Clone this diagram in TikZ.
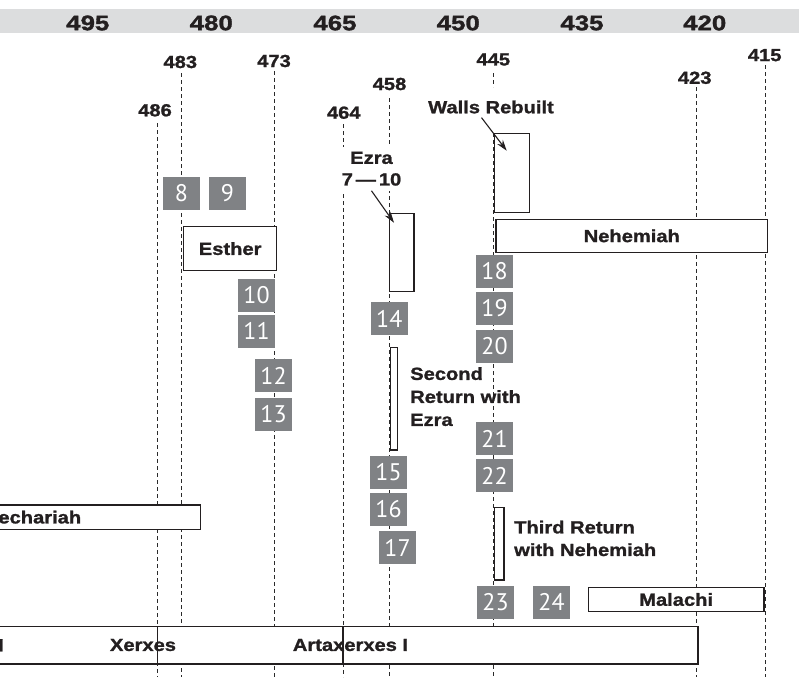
\documentclass[tikz,border=0pt]{standalone}
\usepackage{fontspec}
\usetikzlibrary{arrows.meta}
\newfontfamily\lblfont{Liberation Sans Bold}[FakeStretch=1.15,FakeBold=1.3]
\newfontfamily\hdrfont{Liberation Sans Bold}[FakeStretch=1.23,FakeBold=1.5]
\newfontfamily\numfont{PT Sans}
\definecolor{ink}{HTML}{231F20}
\definecolor{bandgray}{HTML}{DCDDDE}
\definecolor{boxgray}{HTML}{808285}
\definecolor{guidecol}{HTML}{2A2A2A}
\tikzset{
 hdr/.style={font=\hdrfont\fontsize{21}{21}\selectfont, text=ink, inner sep=0},
 yr/.style={font=\lblfont\fontsize{17.5}{17.5}\selectfont, text=ink, inner sep=0},
 guide/.style={draw=guidecol, line width=0.9pt, dash pattern=on 4pt off 3pt},
 span/.style={draw=ink, fill=white, line width=1.3pt, anchor=north west, inner sep=0, font=\lblfont\fontsize{17.5}{17.5}\selectfont, text=ink},
 num/.style={fill=boxgray, text=white, minimum width=37pt, minimum height=33pt, inner sep=0, font=\numfont\fontsize{24}{24}\selectfont},
 lbl/.style={font=\lblfont\fontsize{17.5}{23}\selectfont, text=ink, inner sep=0},
 arr/.style={draw=ink, line width=1.1pt, -{Stealth[length=11pt,width=7pt]}},
 divider/.style={draw=ink, line width=1.3pt},
}
\begin{document}
\begin{tikzpicture}[x=1pt,y=-1pt]
\useasboundingbox (0,0) rectangle (799,677);
\clip (0,0) rectangle (799,677);
% header band
\fill[bandgray] (0,9) rectangle (799,33.5);
\node[hdr] (h495) at (87.8,23) {495};
\node[hdr] (h480) at (211.3,23) {480};
\node[hdr] (h465) at (335,23) {465};
\node[hdr] (h450) at (458.3,23) {450};
\node[hdr] (h435) at (582,23) {435};
\node[hdr] (h420) at (704.7,23) {420};
% year labels
\node[yr] (y486) at (155,110.3) {486};
\node[yr] (y483) at (180.3,62) {483};
\node[yr] (y473) at (274,61) {473};
\node[yr] (y464) at (343.8,112.7) {464};
\node[yr] (y458) at (389.5,84) {458};
\node[yr] (y445) at (493.3,59.5) {445};
\node[yr] (y423) at (694.7,77.8) {423};
\node[yr] (y415) at (764.7,55.2) {415};
% guide lines
\coordinate (t486) at (157.5,123); \coordinate (b486) at (157.5,677);
\coordinate (t483) at (181,73);    \coordinate (b483) at (181,677);
\coordinate (t473) at (274.7,71);  \coordinate (b473) at (274.7,677);
\coordinate (t464) at (343,124);   \coordinate (b464) at (343,677);
\coordinate (t458) at (389.3,98);  \coordinate (b458) at (389.3,677);
\coordinate (t445) at (493.3,73);  \coordinate (m445) at (493.3,87);
\coordinate (n445) at (493.3,133); \coordinate (b445) at (493.3,677);
\coordinate (t423) at (696.7,87);  \coordinate (b423) at (696.7,677);
\coordinate (t415) at (765.7,65);  \coordinate (b415) at (765.7,677);
\draw[guide] (t486) -- (b486);
\draw[guide] (t483) -- (b483);
\draw[guide] (t473) -- (b473);
\draw[guide] (t464) -- (b464);
\draw[guide] (t458) -- (b458);
\draw[guide] (t445) -- (m445);
\draw[guide] (n445) -- (b445);
\draw[guide] (t423) -- (b423);
\draw[guide] (t415) -- (b415);
% spans
\node[span, minimum width=93pt, minimum height=44pt] (esther) at (183,226) {Esther};
\node[span, minimum width=24.6pt, minimum height=78.3pt] (ezrabox) at (388.7,212.7) {};
\node[span, minimum width=35pt, minimum height=78.7pt] (wallsbox) at (494,133) {};
\node[span, minimum width=271.7pt, minimum height=33pt] (nehemiah) at (495.3,218.7) {Nehemiah};
\node[span, minimum width=7pt, minimum height=102.6pt] (second) at (389.7,346.7) {};
\node[span, minimum width=9.6pt, minimum height=72.3pt] (third) at (493.7,507) {};
\node[span, minimum width=334pt, minimum height=24.4pt] (zech) at (-134,504.3) {Zechariah};
\node[span, minimum width=175.6pt, minimum height=23.7pt] (malachi) at (587.7,587) {Malachi};
\node[span, minimum width=717.3pt, minimum height=37.3pt] (kings) at (-20,626) {};
\draw[divider] (157.5,0 |- kings.north) -- (157.5,0 |- kings.south);
\draw[divider] (343,0 |- kings.north) -- (343,0 |- kings.south);
\node[yr, anchor=east] (darius) at (4,645) {Darius I};
\node[yr] (xerxes) at (143,645) {Xerxes};
\node[yr] (artax) at (350.5,645) {Artaxerxes I};
% numbered boxes
\node[num] (n8) at (181.5,193.5) {8};
\node[num] (n9) at (227.5,193.5) {9};
\node[num] (n10) at (256.5,295.5) {10};
\node[num] (n11) at (256.5,331) {11};
\node[num] (n12) at (273.5,375.5) {12};
\node[num] (n13) at (273.5,414) {13};
\node[num] (n14) at (389.3,318.5) {14};
\node[num] (n15) at (388.5,472.5) {15};
\node[num] (n16) at (388.5,509.5) {16};
\node[num] (n17) at (397.5,547.5) {17};
\node[num] (n18) at (494.5,271) {18};
\node[num] (n19) at (494.5,308) {19};
\node[num] (n20) at (494.5,346) {20};
\node[num] (n21) at (494.5,438.5) {21};
\node[num] (n22) at (494.5,475.5) {22};
\node[num] (n23) at (495.5,602) {23};
\node[num] (n24) at (551.5,602) {24};
% labels
\node[lbl, fill=white, inner sep=5pt, align=center, font=\lblfont\fontsize{17.5}{21.6}\selectfont, anchor=north] (ezralbl) at (371.5,146.6) {Ezra\\7\,—\,10};
\node[lbl] (walls) at (491,107) {Walls Rebuilt};
\node[lbl, align=left, anchor=north west] (secondlbl) at (410,367) {Second\\Return with\\Ezra};
\node[lbl, font=\lblfont\fontsize{17.5}{22.6}\selectfont, align=left, anchor=north west] (thirdlbl) at (514,520.5) {Third Return\\with Nehemiah};
% arrows
\coordinate (ezratip) at (394,222.7);
\coordinate (wallstip) at (506.7,150.7);
\draw[arr] (ezralbl.south) -- (ezratip);
\draw[arr] ([xshift=-9.5pt,yshift=-4pt]walls.south) -- (wallstip);
\end{tikzpicture}
\end{document}
